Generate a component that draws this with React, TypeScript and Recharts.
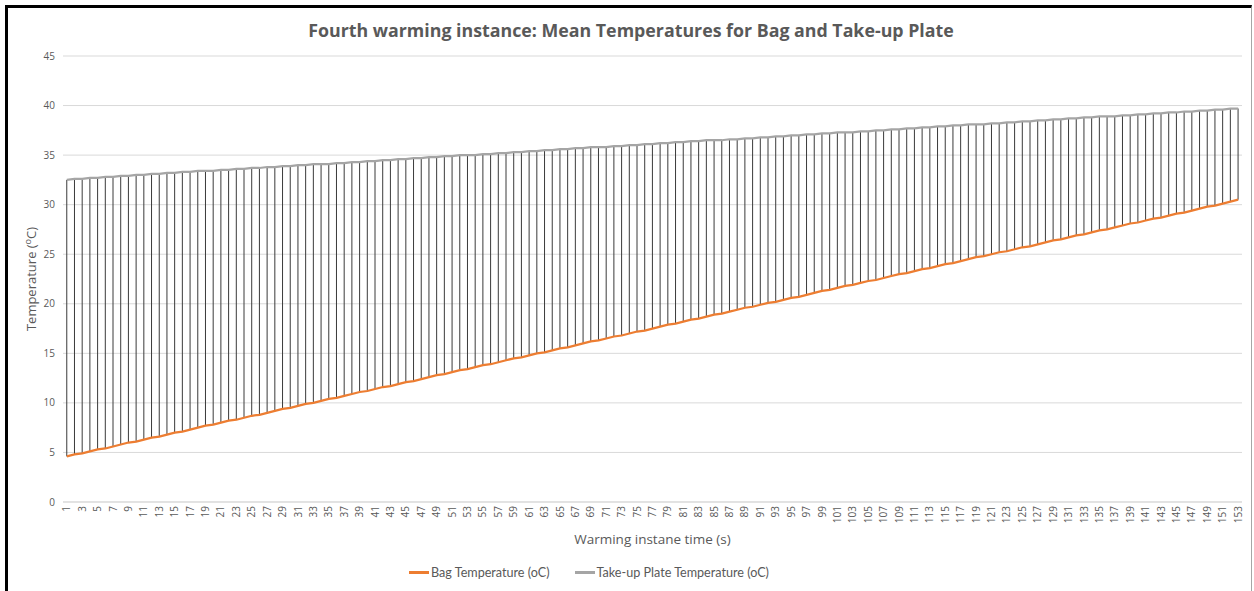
import { ComposedChart, Line, Bar, XAxis, YAxis, CartesianGrid, Legend } from 'recharts'

const FONT = "'Open Sans', 'Noto Sans', sans-serif"
const LEGEND_FONT = "Lato, 'Open Sans', sans-serif"
const TEXT = '#595959'

// Warming instance time (s), 1..153
const timeSeconds = Array.from({ length: 153 }, (_, i) => i + 1)

// Mean bag temperature (oC)
const bagTemp = [
  4.6, 4.8, 4.9, 5.1, 5.3, 5.4, 5.6, 5.8, 6.0, 6.1,
  6.3, 6.5, 6.6, 6.8, 7.0, 7.1, 7.3, 7.5, 7.7, 7.8,
  8.0, 8.2, 8.3, 8.5, 8.7, 8.8, 9.0, 9.2, 9.4, 9.5,
  9.7, 9.9, 10.0, 10.2, 10.4, 10.5, 10.7, 10.9, 11.1, 11.2,
  11.4, 11.6, 11.7, 11.9, 12.1, 12.2, 12.4, 12.6, 12.8, 12.9,
  13.1, 13.3, 13.4, 13.6, 13.8, 13.9, 14.1, 14.3, 14.5, 14.6,
  14.8, 15.0, 15.1, 15.3, 15.5, 15.6, 15.8, 16.0, 16.2, 16.3,
  16.5, 16.7, 16.8, 17.0, 17.2, 17.3, 17.5, 17.7, 17.9, 18.0,
  18.2, 18.4, 18.5, 18.7, 18.9, 19.0, 19.2, 19.4, 19.6, 19.7,
  19.9, 20.1, 20.2, 20.4, 20.6, 20.7, 20.9, 21.1, 21.3, 21.4,
  21.6, 21.8, 21.9, 22.1, 22.3, 22.4, 22.6, 22.8, 23.0, 23.1,
  23.3, 23.5, 23.6, 23.8, 24.0, 24.1, 24.3, 24.5, 24.7, 24.8,
  25.0, 25.2, 25.3, 25.5, 25.7, 25.8, 26.0, 26.2, 26.4, 26.5,
  26.7, 26.9, 27.0, 27.2, 27.4, 27.5, 27.7, 27.9, 28.1, 28.2,
  28.4, 28.6, 28.7, 28.9, 29.1, 29.2, 29.4, 29.6, 29.8, 29.9,
  30.1, 30.3, 30.5,
]

// Mean take-up plate temperature (oC)
const plateTemp = [
  32.5, 32.6, 32.6, 32.7, 32.7, 32.8, 32.8, 32.9, 32.9, 33.0,
  33.0, 33.1, 33.1, 33.2, 33.2, 33.3, 33.3, 33.4, 33.4, 33.4,
  33.5, 33.5, 33.6, 33.6, 33.7, 33.7, 33.8, 33.8, 33.9, 33.9,
  34.0, 34.0, 34.1, 34.1, 34.1, 34.2, 34.2, 34.3, 34.3, 34.4,
  34.4, 34.5, 34.5, 34.6, 34.6, 34.7, 34.7, 34.8, 34.8, 34.9,
  34.9, 35.0, 35.0, 35.0, 35.1, 35.1, 35.2, 35.2, 35.3, 35.3,
  35.4, 35.4, 35.5, 35.5, 35.6, 35.6, 35.7, 35.7, 35.8, 35.8,
  35.8, 35.9, 35.9, 36.0, 36.0, 36.1, 36.1, 36.2, 36.2, 36.3,
  36.3, 36.4, 36.4, 36.5, 36.5, 36.5, 36.6, 36.6, 36.7, 36.7,
  36.8, 36.8, 36.9, 36.9, 37.0, 37.0, 37.1, 37.1, 37.2, 37.2,
  37.3, 37.3, 37.3, 37.4, 37.4, 37.5, 37.5, 37.6, 37.6, 37.7,
  37.7, 37.8, 37.8, 37.9, 37.9, 38.0, 38.0, 38.1, 38.1, 38.1,
  38.2, 38.2, 38.3, 38.3, 38.4, 38.4, 38.5, 38.5, 38.6, 38.6,
  38.7, 38.7, 38.8, 38.8, 38.9, 38.9, 38.9, 39.0, 39.0, 39.1,
  39.1, 39.2, 39.2, 39.3, 39.3, 39.4, 39.4, 39.5, 39.5, 39.6,
  39.6, 39.7, 39.7,
]

const yTicks = [0, 5, 10, 15, 20, 25, 30, 35, 40, 45]

const data = timeSeconds.map((t, i) => ({
  time: t,
  bag: bagTemp[i],
  plate: plateTemp[i],
  spread: [bagTemp[i], plateTemp[i]],
}))

// high-low line between the two series
const DropLine = (props: any) => {
  const { x, y, width, height } = props
  if (x == null || y == null) return null
  const cx = x + width / 2
  return <line x1={cx} x2={cx} y1={y} y2={y + height} stroke="#3a3a3a" strokeWidth={1} />
}

const XTick = ({ x, y, payload }: any) => (
  <g transform={`translate(${x},${y})`}>
    <text transform="rotate(-90)" textAnchor="end" dy={3.5} fontSize={10} fill={TEXT} fontFamily={FONT}>
      {payload.value}
    </text>
  </g>
)

const YLabel = ({ viewBox }: any) => {
  const cy = viewBox.y + viewBox.height / 2
  const x = 32
  return (
    <text x={x} y={cy} transform={`rotate(-90, ${x}, ${cy})`} textAnchor="middle" dy={4}
      fontSize={13} fill={TEXT} fontFamily={FONT}>
      Temperature (<tspan dy={-5} fontSize={9}>o</tspan><tspan dy={5}>C)</tspan>
    </text>
  )
}

const LegendContent = ({ payload }: any) => (
  <div style={{
    display: 'flex', justifyContent: 'center', gap: 25, fontFamily: LEGEND_FONT, fontSize: 12.6,
    color: TEXT, transform: 'translateX(-32px)',
  }}>
    {(payload || []).filter((p: any) => p.type !== 'none').map((p: any) => (
      <div key={p.value} style={{ display: 'flex', alignItems: 'center' }}>
        <span style={{ display: 'inline-block', width: 20, height: 3, background: p.color, marginRight: 2 }} />
        {p.value}
      </div>
    ))}
  </div>
)

export default function App() {
  return (
    <div style={{ position: 'absolute', left: 0, top: 0, width: 1254, height: 591, background: '#fff', overflow: 'hidden' }}>
      <div style={{
        position: 'absolute', left: 5, top: 5, width: 1243, height: 600,
        borderLeft: '3px solid #000', borderTop: '3px solid #000', borderRight: '1px solid #a6a6a6',
      }} />
      <div style={{
        position: 'absolute', top: 18, left: 0, width: 1262, textAlign: 'center',
        fontFamily: FONT, fontSize: 17.8, fontWeight: 'bold', color: TEXT,
      }}>
        Fourth warming instance: Mean Temperatures for Bag and Take-up Plate
      </div>
      <ComposedChart width={1254} height={591} data={data}
        margin={{ top: 56, right: 12, bottom: 10, left: 0 }}
        style={{ position: 'absolute', left: 0, top: 0 }}>
        <CartesianGrid vertical={false} stroke="#d9d9d9" />
        <XAxis dataKey="time" interval={1} tick={<XTick />} tickLine={false} tickSize={0} tickMargin={4}
          axisLine={{ stroke: '#d9d9d9' }} height={51}
          label={{ value: 'Warming instane time (s)', position: 'insideBottom', offset: 9, fill: TEXT, fontSize: 13.5, fontFamily: FONT }} />
        <YAxis domain={[0, 45]} ticks={yTicks} width={63} axisLine={false} tickLine={false}
          tick={{ fontSize: 10, fill: TEXT, fontFamily: FONT }} label={<YLabel />} />
        <Bar dataKey="spread" shape={<DropLine />} legendType="none" isAnimationActive={false} />
        <Line dataKey="bag" name="Bag Temperature (oC)" stroke="#ed7d31" strokeWidth={2.25} dot={false} isAnimationActive={false} />
        <Line dataKey="plate" name="Take-up Plate Temperature (oC)" stroke="#a5a5a5" strokeWidth={2.25} dot={false} isAnimationActive={false} />
        <Legend verticalAlign="bottom" height={28} content={<LegendContent />} wrapperStyle={{ top: 565, bottom: 'auto' }} />
      </ComposedChart>
    </div>
  )
}
